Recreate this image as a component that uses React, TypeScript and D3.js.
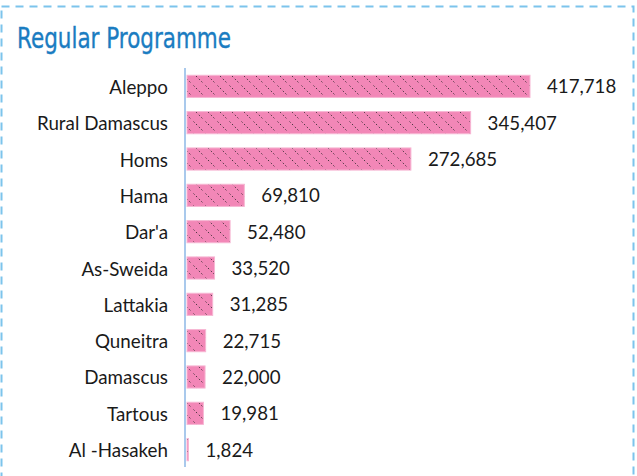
import React from 'react'
import * as d3 from 'd3'

const regions = ['Aleppo', 'Rural Damascus', 'Homs', 'Hama', "Dar'a", 'As-Sweida', 'Lattakia', 'Quneitra', 'Damascus', 'Tartous', 'Al -Hasakeh']
const beneficiaries = [417718, 345407, 272685, 69810, 52480, 33520, 31285, 22715, 22000, 19981, 1824]
const title = 'Regular Programme'

const width = 637
const height = 476
const axisX = 185
const labelFont = 'Lato, "Noto Sans", sans-serif'

function App() {
    const data = regions.map((r, i) => ({ region: r, value: beneficiaries[i] }))

    const yScale = d3.scaleBand()
        .domain(regions)
        .range([68, 468])
        .paddingInner(0.39)
        .paddingOuter(0.2)

    const xScale = d3.scaleLinear()
        .domain([0, 417718])
        .range([axisX + 2, 530])

    const fmt = d3.format(',')

    return (
        <div style={{ position: 'absolute', left: 0, top: 0 }}>
            <svg width={width} height={height}>
                <defs>
                    <pattern id="hatch" patternUnits="userSpaceOnUse" width="12" height="12">
                        <rect width="12" height="12" fill="#f287b7" />
                        <path d="M-1,-1 L13,13" stroke="#222" strokeWidth="1" strokeDasharray="1.2,2.5" />
                        <path d="M-1,11 L1,13 M11,-1 L13,1" stroke="#222" strokeWidth="1" strokeDasharray="1.2,2.5" />
                    </pattern>
                </defs>
                <rect x={1.5} y={6.5} width={632} height={480} fill="none"
                    stroke="#7cc4ec" strokeWidth={2} strokeDasharray="8,6" />
                <text x={17} y={48} fill="#1a7cc1" fontSize={29} stroke="#1a7cc1" strokeWidth={0.4}
                    textLength={214} lengthAdjust="spacingAndGlyphs"
                    style={{ fontFamily: '"DejaVu Sans", sans-serif' }}>
                    {title}
                </text>
                <line x1={axisX} x2={axisX} y1={68} y2={467} stroke="#a9c9ec" strokeWidth={2} />
                {data.map((d) => {
                    const y = yScale(d.region)
                    const bh = yScale.bandwidth()
                    const x1 = xScale(d.value)
                    return (
                        <g key={d.region}>
                            <text x={168} y={y + bh / 2} textAnchor="end" dominantBaseline="central"
                                fontSize={18.8} fill="#1a1a1a" fontFamily={labelFont}>
                                {d.region}
                            </text>
                            <rect x={xScale(0)} y={y} width={x1 - xScale(0)} height={bh}
                                fill="url(#hatch)" stroke="#f7b6d3" strokeWidth={1} />
                            <text x={x1 + 17} y={y + bh / 2} dominantBaseline="central"
                                fontSize={18.7} fill="#1a1a1a" fontFamily={labelFont}>
                                {fmt(d.value)}
                            </text>
                        </g>
                    )
                })}
            </svg>
        </div>
    )
}

export default App
